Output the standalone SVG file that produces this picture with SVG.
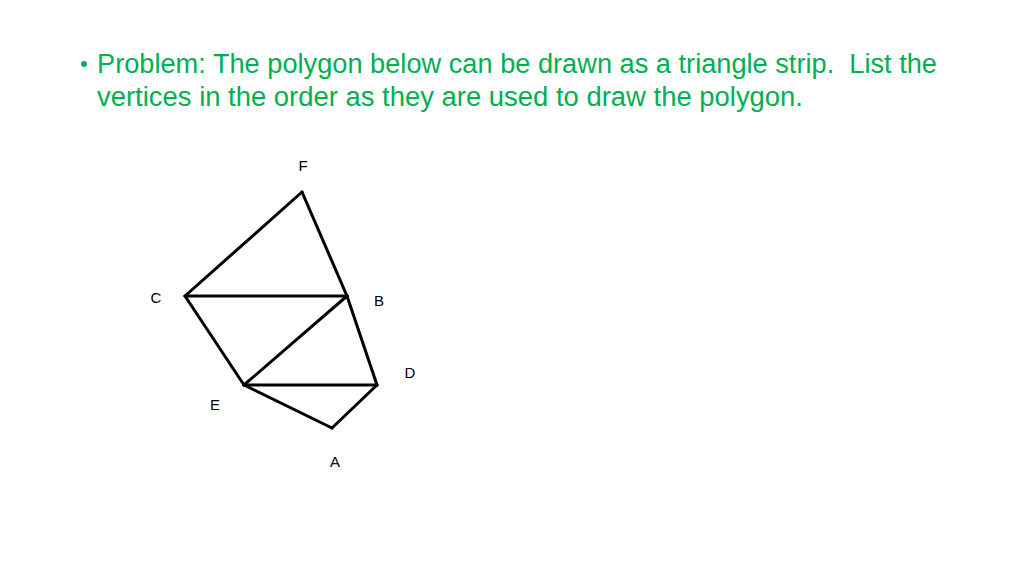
<svg xmlns="http://www.w3.org/2000/svg" width="1024" height="576" viewBox="0 0 1024 576">
<style>
.t{font-family:"Liberation Sans",Arial,sans-serif;font-size:27px;fill:#00B050;white-space:pre}
.lbl{font-family:"Liberation Sans",Arial,sans-serif;font-size:15px;fill:#000;text-anchor:middle}
.e{stroke:#000;stroke-width:3;stroke-linecap:round;fill:none}
</style>
<rect width="1024" height="576" fill="#fff"/>
<g id="title">
<circle cx="84" cy="64" r="3" fill="#00B050"/>
<text class="t" xml:space="preserve" x="97" y="73" textLength="840" lengthAdjust="spacingAndGlyphs">Problem: The polygon below can be drawn as a triangle strip.  List the</text>
<text class="t" x="97" y="106" textLength="706" lengthAdjust="spacingAndGlyphs">vertices in the order as they are used to draw the polygon.</text>
</g>
<g id="connectors">
<line class="e" x1="302" y1="192" x2="185" y2="296"/>
<line class="e" x1="302" y1="192" x2="347" y2="296"/>
<line class="e" x1="185" y1="296" x2="347" y2="296"/>
<line class="e" x1="185" y1="296" x2="244" y2="385"/>
<line class="e" x1="347" y1="296" x2="244" y2="385"/>
<line class="e" x1="347" y1="296" x2="377" y2="385"/>
<line class="e" x1="244" y1="385" x2="377" y2="385"/>
<line class="e" x1="244" y1="385" x2="332" y2="428"/>
<line class="e" x1="377" y1="385" x2="332" y2="428"/>
</g>
<g id="node-F"><text class="lbl" x="303" y="171">F</text></g>
<g id="node-C"><text class="lbl" x="156" y="303">C</text></g>
<g id="node-B"><text class="lbl" x="379" y="306">B</text></g>
<g id="node-D"><text class="lbl" x="410" y="378">D</text></g>
<g id="node-E"><text class="lbl" x="215" y="410">E</text></g>
<g id="node-A"><text class="lbl" x="335" y="467">A</text></g>
</svg>
